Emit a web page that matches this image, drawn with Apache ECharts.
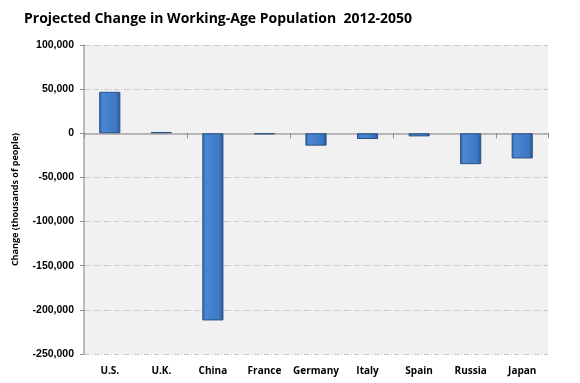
<!DOCTYPE html>
<html><head><meta charset="utf-8">
<script src="https://cdn.jsdelivr.net/npm/echarts@6/dist/echarts.min.js"></script>
<style>html,body{margin:0;padding:0;background:#fff}#c{width:580px;height:383px}</style>
</head><body><div id="c"></div>
<script>
const categories = ['U.S.', 'U.K.', 'China', 'France', 'Germany', 'Italy', 'Spain', 'Russia', 'Japan'];
const changeValues = [47000, 1500, -212000, -1000, -14000, -6500, -3500, -35000, -28500];
const yTicks = [-250000, 100000, 50000];

const chart = echarts.init(document.getElementById('c'));
const barColor = new echarts.graphic.LinearGradient(0, 0, 1, 0, [
  {offset: 0, color: '#2f62a6'},
  {offset: 0.15, color: '#4a86d2'},
  {offset: 0.8, color: '#3d78c4'},
  {offset: 1, color: '#2a568f'}
]);
chart.setOption({
  animation: false,
  title: {
    text: 'Projected Change in Working-Age Population  2012-2050',
    left: 19, top: 7,
    textStyle: {fontFamily: 'Open Sans', fontWeight: 'bold', fontSize: 14, color: '#000'}
  },
  grid: {left: 84, right: 32, top: 45, bottom: 29, show: true, backgroundColor: '#f1f1f1', borderWidth: 0},
  xAxis: [{
    type: 'category', data: categories,
    axisLine: {onZero: true, lineStyle: {color: '#a6a6a6', width: 1.5}},
    axisTick: {show: true, length: 5, lineStyle: {color: '#8c8c8c'}},
    axisLabel: {show: false}
  }, {
    type: 'category', data: categories, position: 'bottom',
    axisLine: {show: false, onZero: false}, axisTick: {show: false},
    axisLabel: {interval: 0, fontFamily: 'Open Sans', fontWeight: 'bold', fontSize: 10, color: '#000', margin: 12}
  }],
  yAxis: {
    type: 'value', min: yTicks[0], max: yTicks[1], interval: yTicks[2],
    name: 'Change (thousands of people)', nameLocation: 'middle', nameGap: 64,
    nameTextStyle: {fontFamily: 'Open Sans', fontWeight: 'bold', fontSize: 9, color: '#000'},
    axisLine: {show: true, lineStyle: {color: '#a6a6a6', width: 1.5}},
    axisTick: {show: true, length: 4, lineStyle: {color: '#8c8c8c'}},
    axisLabel: {fontFamily: 'Liberation Sans', fontWeight: 'bold', fontSize: 10.5, color: '#000', margin: 10,
      formatter: v => v.toLocaleString('en-US')},
    splitLine: {show: true, lineStyle: {color: '#c8c8c8', type: [5, 2, 1, 2]}}
  },
  series: [{
    type: 'bar', data: changeValues, xAxisIndex: 0, barWidth: '41%',
    itemStyle: {color: barColor, borderColor: '#2a4f82', borderWidth: 1}
  }]
});
</script></body></html>
